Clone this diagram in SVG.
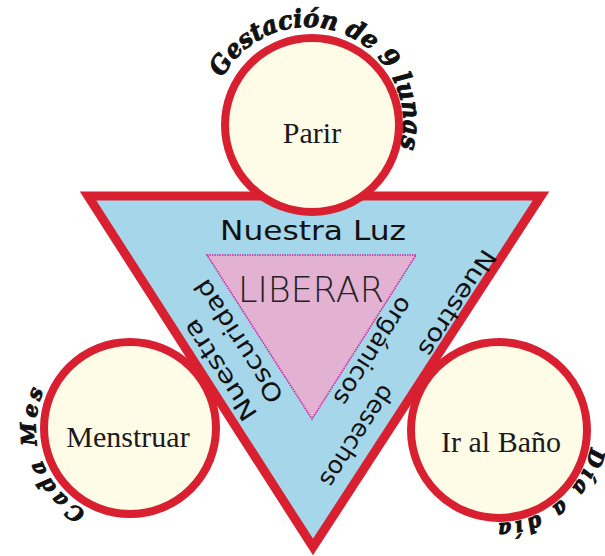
<svg xmlns="http://www.w3.org/2000/svg" xmlns:xlink="http://www.w3.org/1999/xlink" width="605" height="556" viewBox="0 0 605 556">
<style>
.tri{fill:#a6d6e9;stroke:#d92030;stroke-width:9;stroke-linejoin:miter}
.inner{fill:#e3b1d1;stroke:#c8289e;stroke-width:1.6;stroke-dasharray:1.5 1}
.circ{fill:#fefbe7;stroke:#d92030;stroke-width:8}
.lbl{font-family:"Liberation Serif","DejaVu Serif",serif;font-size:30px;fill:#1a1a1a;text-anchor:middle}
.hand{font-family:"DejaVu Sans","Noto Sans",sans-serif;font-size:24px;fill:#111;text-anchor:middle}
.curve{font-family:"DejaVu Serif","Liberation Serif",serif;font-weight:bold;font-style:italic;fill:#111;stroke:#111;stroke-width:0.9}
.lib{font-family:"DejaVu Sans","Lato",sans-serif;font-weight:200;font-size:35px;fill:#222;text-anchor:middle}
</style>
<defs>
<path id="arcTop" d="M222.5,78 A96,96 0 0 1 399.3,150.5"/>
<path id="arcLeft" d="M85.9,511 A94,94 0 0 1 46.2,385.3"/>
<path id="arcRight" d="M590.5,447.5 A93,93 0 0 1 486.1,522.1"/>
</defs>
<g id="triangle">
<polygon class="tri" points="88,196 541,196 313,547"/>
</g>
<g id="center">
<polygon class="inner" points="207,255 416,255 312,419"/>
<text class="lib" x="311" y="302" textLength="146" lengthAdjust="spacingAndGlyphs">LIBERAR</text>
</g>
<g id="connectors"></g>
<g id="edge-labels">
<text class="hand" x="313" y="240" textLength="186" lengthAdjust="spacingAndGlyphs" style="font-size:27px">Nuestra Luz</text>
<g transform="translate(220,370) rotate(237)"><text class="hand" x="0" y="8" textLength="116" lengthAdjust="spacingAndGlyphs">Nuestra</text></g>
<g transform="translate(239,341) rotate(237)"><text class="hand" x="0" y="8" textLength="142" lengthAdjust="spacingAndGlyphs">Oscuridad</text></g>
<g transform="translate(457,303) rotate(123)"><text class="hand" x="0" y="8" textLength="122" lengthAdjust="spacingAndGlyphs">Nuestros</text></g>
<g transform="translate(373,351) rotate(123)"><text class="hand" x="0" y="8" textLength="124" lengthAdjust="spacingAndGlyphs">orgánicos</text></g>
<g transform="translate(357,436) rotate(123)"><text class="hand" x="0" y="8" textLength="116" lengthAdjust="spacingAndGlyphs">desechos</text></g>
</g>
<g id="parir">
<circle class="circ" cx="312" cy="125" r="87"/>
<text class="lbl" x="312" y="143">Parir</text>
<text class="curve" font-size="25"><textPath xlink:href="#arcTop" textLength="280" lengthAdjust="spacingAndGlyphs">Gestación de 9 lunas</textPath></text>
</g>
<g id="menstruar">
<circle class="circ" cx="130" cy="428" r="86"/>
<text class="lbl" x="128" y="447">Menstruar</text>
<text class="curve" font-size="21"><textPath xlink:href="#arcLeft" textLength="140" lengthAdjust="spacing">Cada Mes</textPath></text>
</g>
<g id="bano">
<circle class="circ" cx="499" cy="430" r="88"/>
<text class="lbl" x="501" y="452">Ir al Baño</text>
<text class="curve" font-size="21"><textPath xlink:href="#arcRight" textLength="130" lengthAdjust="spacing">Día a día</textPath></text>
</g>
</svg>
